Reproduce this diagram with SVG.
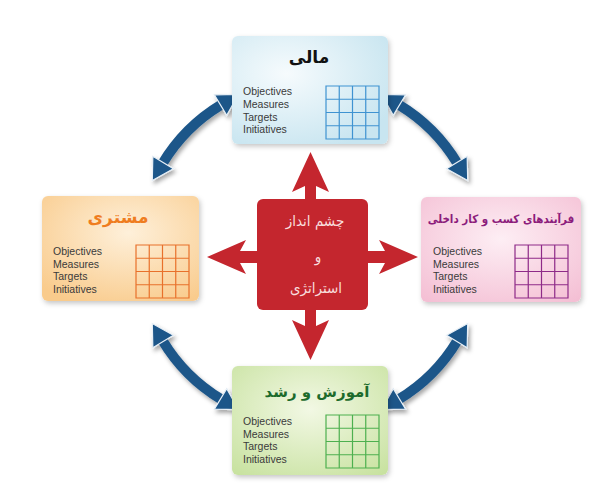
<svg xmlns="http://www.w3.org/2000/svg" xmlns:xlink="http://www.w3.org/1999/xlink" width="600" height="499" viewBox="0 0 600 499">
<style>
.lbl{font-family:"Liberation Sans",Arial,sans-serif;font-size:10.5px;fill:#3a3a3a}
.fa{font-family:"DejaVu Sans",sans-serif;text-anchor:middle;font-weight:bold}
.fk{font-family:"DejaVu Sans Condensed","DejaVu Sans",sans-serif;text-anchor:middle;font-weight:bold}
.fc{font-family:"DejaVu Sans Condensed","DejaVu Sans",sans-serif;text-anchor:middle;font-weight:normal;font-size:15px;fill:#f8dcdc}
.box{filter:url(#sh)}
.grid{fill:none;stroke-width:1.2}
.arc{fill:none;stroke:#1d5689;stroke-width:10;marker-start:url(#bh);marker-end:url(#bh)}
.red{fill:#c4262e}
</style>
<defs>
<filter id="sh" x="-10%" y="-10%" width="125%" height="130%">
<feDropShadow dx="1.5" dy="2.5" stdDeviation="2.5" flood-color="#000" flood-opacity="0.22"/>
</filter>
<filter id="ash" x="-30%" y="-30%" width="160%" height="160%">
<feDropShadow dx="2" dy="3" stdDeviation="2" flood-color="#000" flood-opacity="0.35"/>
</filter>
<radialGradient id="gBlue" cx="35%" cy="35%" r="75%">
<stop offset="0" stop-color="#f6fbfd"/><stop offset="1" stop-color="#c8e5f0"/>
</radialGradient>
<radialGradient id="gOrange" cx="55%" cy="35%" r="75%">
<stop offset="0" stop-color="#fef0da"/><stop offset="1" stop-color="#f9cb8c"/>
</radialGradient>
<radialGradient id="gPink" cx="50%" cy="40%" r="75%">
<stop offset="0" stop-color="#fdeef4"/><stop offset="1" stop-color="#f4bfd4"/>
</radialGradient>
<radialGradient id="gGreen" cx="50%" cy="40%" r="75%">
<stop offset="0" stop-color="#f2f8e4"/><stop offset="1" stop-color="#c8e2a0"/>
</radialGradient>
<path id="grid" d="M0,0h53v53h-53z M13.25,0v53 M26.5,0v53 M39.75,0v53 M0,13.25h53 M0,26.5h53 M0,39.75h53"/>
<marker id="bh" markerUnits="userSpaceOnUse" markerWidth="30" markerHeight="30" refX="1" refY="12" orient="auto-start-reverse" overflow="visible">
<path d="M0,0 L21,12 L0,24 z" fill="#1d5689" stroke="#e8f0f7" stroke-width="1.2"/>
</marker>
</defs>

<g id="connectors">
<g filter="url(#ash)">
<path class="arc" d="M162.6,163.4 A172,172 0 0 1 221.4,104.6"/>
<path class="arc" d="M398.6,104.6 A172,172 0 0 1 457.4,163.4"/>
<path class="arc" d="M457.4,340.6 A172,172 0 0 1 398.6,399.4"/>
<path class="arc" d="M221.4,399.4 A172,172 0 0 1 162.6,340.6"/>
</g>
<polygon class="red" points="310.5,152 329,192 316,186 316,200 305,200 305,186 292,192"/>
<polygon class="red" points="310.5,360 329,320 316,326 316,309 305,309 305,326 292,320"/>
<polygon class="red" points="207,257 246,240 240,251 258,251 258,263 240,263 246,274"/>
<polygon class="red" points="418,257 379,240 385,251 367,251 367,263 385,263 379,274"/>
</g>

<g id="node-finance">
<rect class="box" x="232" y="36" width="156" height="108" rx="6" fill="url(#gBlue)"/>
<text class="fa" x="309" y="63" font-size="17" fill="#111" direction="rtl">مالی</text>
<text class="lbl" x="243" y="95">Objectives</text>
<text class="lbl" x="243" y="108">Measures</text>
<text class="lbl" x="243" y="120.5">Targets</text>
<text class="lbl" x="243" y="133">Initiatives</text>
<use href="#grid" x="326" y="86" class="grid" stroke="#3f93d1"/>
</g>

<g id="node-customer">
<rect class="box" x="42" y="196" width="157" height="105" rx="6" fill="url(#gOrange)"/>
<text class="fa" x="118" y="223" font-size="17" fill="#ef7d1f" direction="rtl">مشتری</text>
<text class="lbl" x="53" y="255">Objectives</text>
<text class="lbl" x="53" y="267.5">Measures</text>
<text class="lbl" x="53" y="280">Targets</text>
<text class="lbl" x="53" y="292.5">Initiatives</text>
<use href="#grid" x="136" y="245" class="grid" stroke="#e8712b"/>
</g>

<g id="node-internal">
<rect class="box" x="421" y="197" width="160" height="105" rx="6" fill="url(#gPink)"/>
<text class="fk" x="501" y="223" font-size="11.5" fill="#8c1c7c" direction="rtl">فرآیندهای کسب و کار داخلی</text>
<text class="lbl" x="433" y="255">Objectives</text>
<text class="lbl" x="433" y="267.5">Measures</text>
<text class="lbl" x="433" y="280">Targets</text>
<text class="lbl" x="433" y="292.5">Initiatives</text>
<use href="#grid" x="515" y="245" class="grid" stroke="#8e2a88"/>
</g>

<g id="node-learning">
<rect class="box" x="232" y="366" width="156" height="109" rx="6" fill="url(#gGreen)"/>
<text class="fa" x="317" y="397" font-size="15" fill="#1d6b2c" direction="rtl">آموزش و رشد</text>
<text class="lbl" x="243" y="425">Objectives</text>
<text class="lbl" x="243" y="437.5">Measures</text>
<text class="lbl" x="243" y="450">Targets</text>
<text class="lbl" x="243" y="462.5">Initiatives</text>
<use href="#grid" x="326" y="415" class="grid" stroke="#4db04f"/>
</g>

<g id="node-center">
<rect x="257" y="199" width="111" height="111" rx="6" fill="#c4262e"/>
<text class="fc" x="315" y="226" direction="rtl">چشم انداز</text>
<text class="fc" x="318" y="262" direction="rtl">و</text>
<text class="fc" x="316" y="293" direction="rtl">استراتژی</text>
</g>
</svg>
